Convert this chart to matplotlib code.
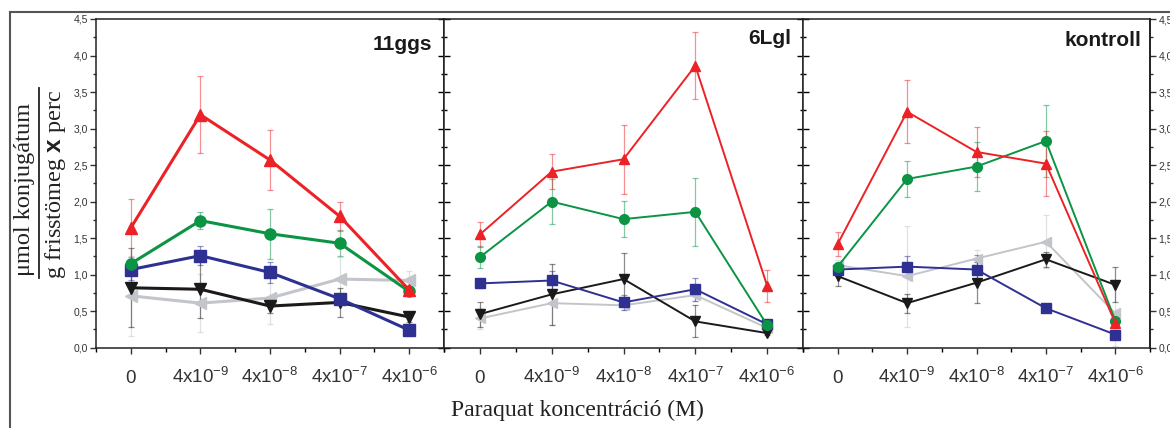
import matplotlib
matplotlib.use('Agg')
import matplotlib.pyplot as plt
from matplotlib.ticker import MultipleLocator, FuncFormatter
from matplotlib.lines import Line2D

plt.rcParams['font.family'] = ['Liberation Sans', 'DejaVu Sans']
plt.rcParams['mathtext.fontset'] = 'custom'
plt.rcParams['mathtext.rm'] = 'Liberation Sans'
plt.rcParams['mathtext.bf'] = 'Liberation Sans:bold'
plt.rcParams['mathtext.default'] = 'regular'

# x categories (paraquat concentration, M)
conc_labels = ['0', r'4x10$^{-9}$', r'4x10$^{-8}$', r'4x10$^{-7}$', r'4x10$^{-6}$']
panels = ['11ggs', '6Lgl', 'kontroll']

# series order: red, green, blue, black, grey
ggs11_vals = [[1.64, 3.19, 2.57, 1.80, 0.79],
              [1.15, 1.74, 1.56, 1.43, 0.77],
              [1.07, 1.26, 1.03, 0.67, 0.24],
              [0.82, 0.80, 0.57, 0.62, 0.42],
              [0.71, 0.61, 0.68, 0.94, 0.92]]
ggs11_err = [[0.40, 0.53, 0.41, 0.20, 0.05],
             [0.07, 0.12, 0.34, 0.18, 0.04],
             [0.14, 0.13, 0.14, 0.05, 0.03],
             [0.54, 0.39, 0.10, 0.20, 0.07],
             [0.55, 0.40, 0.36, 0.30, 0.13]]

lgl6_vals = [[1.55, 2.41, 2.58, 3.86, 0.85],
             [1.24, 2.00, 1.76, 1.86, 0.31],
             [0.88, 0.92, 0.62, 0.80, 0.32],
             [0.46, 0.73, 0.94, 0.36, 0.20],
             [0.40, 0.61, 0.58, 0.72, 0.27]]
lgl6_err = [[0.17, 0.24, 0.47, 0.46, 0.22],
            [0.15, 0.31, 0.25, 0.47, 0.03],
            [0.06, 0.13, 0.10, 0.16, 0.03],
            [0.17, 0.42, 0.36, 0.22, 0.03],
            [0.14, 0.30, 0.07, 0.08, 0.03]]

kontroll_vals = [[1.42, 3.23, 2.68, 2.52, 0.34],
                 [1.11, 2.31, 2.48, 2.83, 0.37],
                 [1.07, 1.11, 1.07, 0.54, 0.18],
                 [0.98, 0.61, 0.89, 1.21, 0.86],
                 [1.13, 0.98, 1.22, 1.45, 0.47]]
kontroll_err = [[0.16, 0.43, 0.34, 0.44, 0.05],
                [0.05, 0.25, 0.34, 0.49, 0.05],
                [0.05, 0.14, 0.20, 0.05, 0.05],
                [0.13, 0.13, 0.28, 0.10, 0.24],
                [0.07, 0.69, 0.12, 0.36, 0.45]]

colors = ['#ec2227', '#0b9444', '#2e3192', '#1a1a1a', '#c2c5c9']
markers = ['^', 'o', 's', 'v', '<']

comma = FuncFormatter(lambda v, p: f'{v:.1f}'.replace('.', ','))

fig = plt.figure(figsize=(11.7, 4.28), dpi=100)
W, H = 1170.0, 428.0
bottom, height = (H - 347.7) / H, 328.7 / H
edges = [96, 444, 803, 1150]
title_pos = [(0.966, 0.952), (0.968, 0.970), (0.976, 0.962)]
all_vals = [ggs11_vals, lgl6_vals, kontroll_vals]
all_err = [ggs11_err, lgl6_err, kontroll_err]

for i in range(3):
    ax = fig.add_axes([edges[i] / W, bottom, (edges[i + 1] - edges[i]) / W, height])
    lw = 2.2 if i == 0 else 1.4
    ms = 8 if i == 0 else 7
    x = list(range(len(conc_labels)))
    # draw grey first so red ends up on top
    for k in [4, 3, 2, 1, 0]:
        ax.errorbar(x, all_vals[i][k], yerr=all_err[i][k], fmt='none',
                    ecolor=colors[k], alpha=0.5, elinewidth=0.9, capsize=2.5,
                    capthick=0.9, zorder=2)
        ax.plot(x, all_vals[i][k], color=colors[k], marker=markers[k], lw=lw,
                ms=ms, mec=colors[k], zorder=3)
    ax.set_xlim(-0.5, 4.5)
    ax.set_ylim(0, 4.5)
    ax.set_xticks(x)
    ax.set_xticklabels(conc_labels)
    ax.xaxis.set_minor_locator(MultipleLocator(0.5))
    ax.yaxis.set_major_locator(MultipleLocator(0.5))
    ax.yaxis.set_minor_locator(MultipleLocator(0.25))
    ax.tick_params(axis='x', which='major', direction='out', length=4.5, width=1,
                   pad=21, labelsize=13.5, colors='#333333', top=False)
    ax.tick_params(axis='x', which='minor', direction='out', length=3, width=1, top=False)
    plt.setp(ax.get_xticklabels(), va='baseline')
    for s in ax.spines.values():
        s.set_linewidth(1.1)
        s.set_color('#222222')

    if i == 0:
        ax.tick_params(axis='y', which='both', direction='out', right=False,
                       labelsize=7.5, colors='#333333', pad=2, width=1)
        ax.tick_params(axis='y', which='major', length=4)
        ax.tick_params(axis='y', which='minor', length=2.5)
        ax.yaxis.set_major_formatter(comma)
        sec = ax.secondary_yaxis('right')
        sec.yaxis.set_major_locator(MultipleLocator(0.5))
        sec.yaxis.set_minor_locator(MultipleLocator(0.25))
        sec.tick_params(which='both', direction='in', labelright=False, width=1)
        sec.tick_params(which='major', length=4)
        sec.tick_params(which='minor', length=2.5)
        sec.spines['right'].set_linewidth(1.1)
    elif i == 1:
        ax.tick_params(axis='y', which='both', direction='in', right=True,
                       labelleft=False, width=1)
        ax.tick_params(axis='y', which='major', length=4)
        ax.tick_params(axis='y', which='minor', length=2.5)
    else:
        ax.tick_params(axis='y', which='both', direction='in', right=False,
                       labelleft=False, width=1)
        ax.tick_params(axis='y', which='major', length=4)
        ax.tick_params(axis='y', which='minor', length=2.5)
        sec = ax.secondary_yaxis('right')
        sec.yaxis.set_major_locator(MultipleLocator(0.5))
        sec.yaxis.set_minor_locator(MultipleLocator(0.25))
        sec.yaxis.set_major_formatter(comma)
        sec.tick_params(which='both', direction='out', labelsize=7.5,
                        colors='#333333', pad=2, width=1)
        sec.tick_params(which='major', length=4)
        sec.tick_params(which='minor', length=2.5)
        sec.spines['right'].set_linewidth(1.1)

    ax.text(title_pos[i][0], title_pos[i][1], panels[i], transform=ax.transAxes,
            ha='right', va='top', fontsize=15, fontweight='bold', color='#1a1a1a')

# outer frame (top and left edges)
fig.add_artist(Line2D([9.5 / W, 1.0], [1 - 12 / H, 1 - 12 / H], color='#555555', lw=1.5))
fig.add_artist(Line2D([9.5 / W, 9.5 / W], [0.0, 1 - 12 / H], color='#555555', lw=1.5))

# y label as a fraction
serif = ['Liberation Serif', 'DejaVu Serif']
fig.text(25 / W, 1 - 189 / H, 'μmol konjugátum', rotation=90, ha='center',
         va='center', fontsize=17.5, family=serif, color='#222222')
fig.add_artist(Line2D([38.5 / W, 38.5 / W], [1 - 278 / H, 1 - 88 / H],
                      color='#222222', lw=1.3))
fig.text(55 / W, 1 - 184.5 / H, r'g frisstömeg $\mathbf{x}$ perc', rotation=90,
         ha='center', va='center', fontsize=17.5, family=serif, color='#222222')

fig.text(577 / W, 18 / H, 'Paraquat koncentráció (M)', ha='center', va='center',
         fontsize=17, family=serif, color='#222222')

fig.savefig('out.png', dpi=100)
